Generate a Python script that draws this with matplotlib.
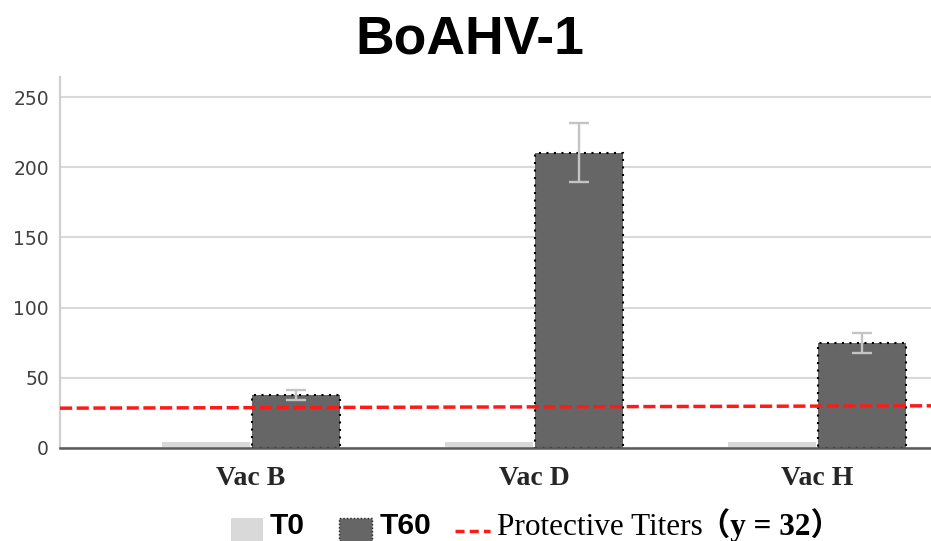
import matplotlib
matplotlib.use("Agg")
from matplotlib import pyplot as plt
from matplotlib.patches import Rectangle
from matplotlib.lines import Line2D
import numpy as np

# data
groups = ["Vac B", "Vac D", "Vac H"]
t0_values = [4, 4, 4]
t60_values = [37.5, 210.5, 74.7]
t60_errors = [3.5, 21.0, 7.4]
protective_y = [28.2, 29.9]   # drawn line drifts a bit, label says 32
yticks = [0, 50, 100, 150, 200, 250]

W, H = 931, 541
fig = plt.figure(figsize=(W / 100, H / 100), dpi=100)
ax = fig.add_axes([60 / W, 93.3 / H, 871 / W, 371 / H])

x = np.arange(len(groups))
bw = 0.31

ax.bar(x - 0.158, t0_values, width=bw, color="#d9d9d9", zorder=3)
ax.bar(x + 0.158, t60_values, width=bw, color="#666666", edgecolor="black",
       linewidth=1.5, linestyle=(0, (1, 2.6)), zorder=3)
ax.errorbar(x + 0.158, t60_values, yerr=t60_errors, fmt="none", ecolor="#c4c4c4",
            elinewidth=1.7, capsize=7.2, capthick=1.7, zorder=4)

xl = (-0.675, 2.403)
ax.plot(xl, protective_y, color="#ff1a1a", linewidth=2.5,
        linestyle=(0, (3.5, 1.3)), zorder=5)

ax.set_xlim(xl)
ax.set_ylim(0, 264.7)
ax.set_yticks(yticks)
ax.set_xticks(x)
ax.set_xticklabels(groups, fontfamily="Liberation Serif", fontweight="bold",
                   fontsize=20, color="#262626")
ax.tick_params(axis="x", length=0, pad=13)
ax.tick_params(axis="y", length=0, pad=8, labelsize=13.5, labelcolor="#404040")
ax.grid(axis="y", color="#d9d9d9", linewidth=1.5, zorder=0)
for s in ["top", "right"]:
    ax.spines[s].set_visible(False)
ax.spines["left"].set_color("#d0d0d0")
ax.spines["left"].set_linewidth(1.6)
ax.spines["bottom"].set_color("#595959")
ax.spines["bottom"].set_linewidth(1.8)
ax.spines["bottom"].set_zorder(6)

fig.text(469.5 / W, (H - 53) / H, "BoAHV-1", ha="center", va="baseline",
         fontsize=38.5, fontweight="bold", fontfamily="Liberation Sans")

# legend, drawn by hand at the bottom edge
def px(xp, yp):
    return xp / W, (H - yp) / H

fig.add_artist(Rectangle(px(231, 550), 32 / W, 32 / H, transform=fig.transFigure,
                         facecolor="#d9d9d9", edgecolor="none"))
fig.text(*px(270, 534.5), "T0", fontsize=21.5, fontweight="bold",
         fontfamily="Liberation Sans", va="baseline")
fig.add_artist(Rectangle(px(339, 551), 33 / W, 33 / H, transform=fig.transFigure,
                         facecolor="#666666", edgecolor="#222222", linewidth=1,
                         linestyle=(0, (1, 1.5))))
fig.text(*px(380, 534.5), "T60", fontsize=21.5, fontweight="bold",
         fontfamily="Liberation Sans", va="baseline")
lx0, ly = px(455, 530.7)
lx1, _ = px(490, 530.7)
fig.add_artist(Line2D([lx0, lx1], [ly, ly], transform=fig.transFigure,
                      color="#ff1a1a", linewidth=2.5, linestyle=(0, (2.6, 1.5))))
fig.text(*px(496.7, 535), "Protective Titers", fontsize=22.5,
         fontfamily="Liberation Serif", va="baseline")
fig.text(*px(699, 535), "\uff08y = 32\uff09", fontsize=22.5, fontweight="bold",
         fontfamily=["Liberation Serif", "Noto Sans CJK SC"], va="baseline")

fig.savefig("out.png", dpi=100)
